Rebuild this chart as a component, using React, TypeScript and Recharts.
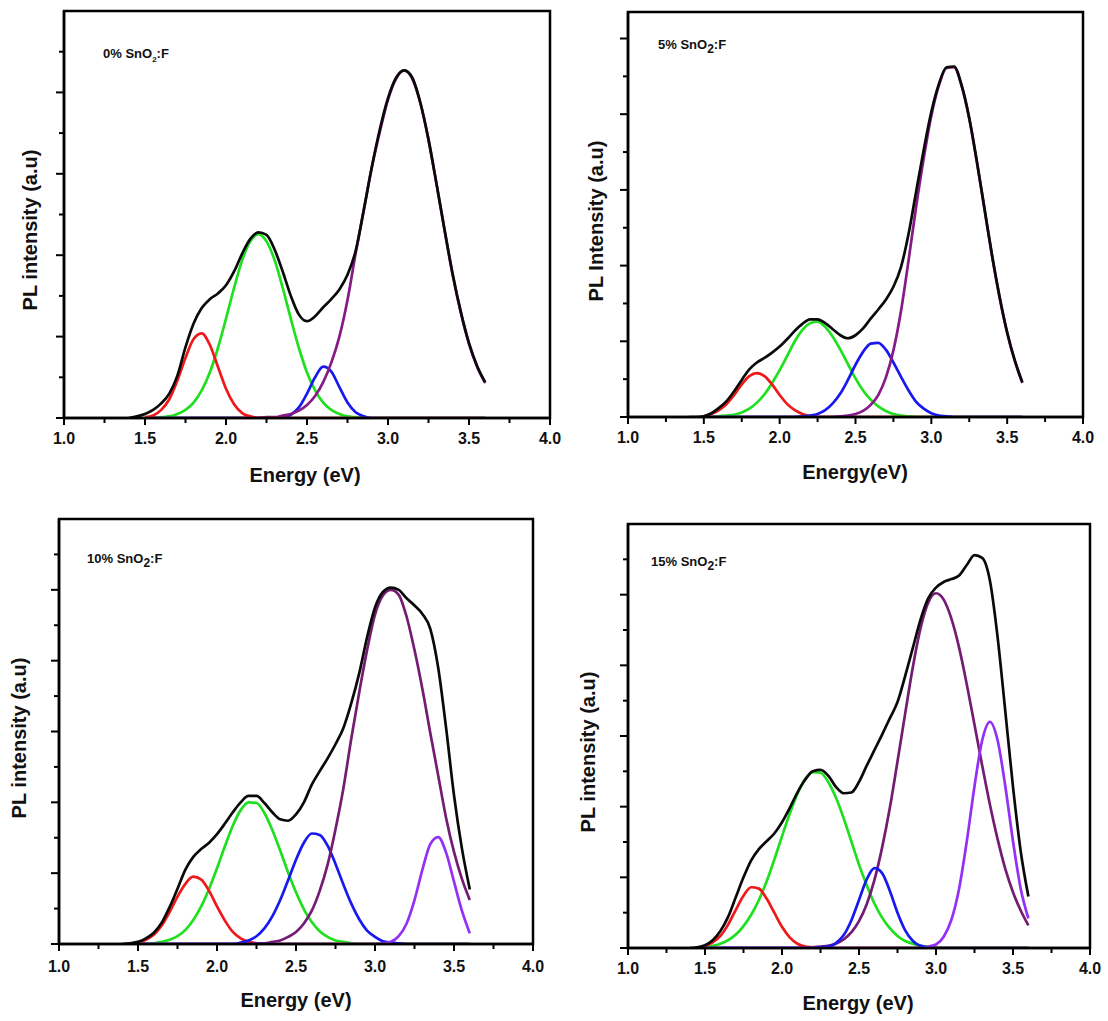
import React from 'react';
import { LineChart, Line, XAxis, YAxis, ReferenceArea } from 'recharts';

const FONT = '"Liberation Sans", Arial, Helvetica, sans-serif';

// photon energy grid (eV)
const ENERGY = [1.40, 1.45, 1.50, 1.55, 1.60, 1.65, 1.70, 1.75, 1.80, 1.85, 1.90, 1.95, 2.00, 2.05, 2.10, 2.15, 2.20, 2.25, 2.30, 2.35, 2.40, 2.45, 2.50, 2.55, 2.60, 2.65, 2.70, 2.75, 2.80, 2.85, 2.90, 2.95, 3.00, 3.05, 3.10, 3.15, 3.20, 3.25, 3.30, 3.35, 3.40, 3.45, 3.50, 3.55, 3.60];

const X_TICKS = [1.0, 1.25, 1.5, 1.75, 2.0, 2.25, 2.5, 2.75, 3.0, 3.25, 3.5, 3.75, 4.0];
const Y_TICKS_5 = [0, 0.5, 1, 1.5, 2, 2.5, 3, 3.5, 4, 4.5];
const Y_TICKS_53 = [0, 0.5, 1, 1.5, 2, 2.5, 3, 3.5, 4, 4.5, 5];
const Y_TICKS_6 = [0, 0.5, 1, 1.5, 2, 2.5, 3, 3.5, 4, 4.5, 5, 5.5];

const _ = null;

// ---------- 0% SnO2:F ----------
const P0_TOTAL = [0.00, 0.02, 0.05, 0.10, 0.18, 0.30, 0.52, 0.87, 1.16, 1.35, 1.46, 1.53, 1.63, 1.80, 2.02, 2.20, 2.28, 2.25, 2.07, 1.80, 1.50, 1.27, 1.19, 1.25, 1.36, 1.46, 1.58, 1.76, 2.05, 2.55, 3.08, 3.55, 3.93, 4.18, 4.27, 4.18, 3.87, 3.42, 2.87, 2.30, 1.76, 1.30, 0.92, 0.64, 0.44];
const P0_RED = [_, _, 0.01, 0.03, 0.10, 0.23, 0.46, 0.74, 0.97, 1.04, 0.90, 0.63, 0.36, 0.17, 0.06, 0.02, 0.00, 0, 0, 0, 0, 0, 0, 0, 0, 0, 0, 0, 0, 0, 0, 0, 0, 0, 0, 0, 0, 0, 0, 0, 0, 0, 0, 0, 0];
const P0_GREEN = [_, _, 0.00, 0.00, 0.01, 0.02, 0.05, 0.10, 0.19, 0.34, 0.56, 0.86, 1.22, 1.60, 1.94, 2.17, 2.26, 2.17, 1.94, 1.60, 1.22, 0.86, 0.56, 0.34, 0.19, 0.10, 0.05, 0.02, 0.01, 0, 0, 0, 0, 0, 0, 0, 0, 0, 0, 0, 0, 0, 0, 0, 0];
const P0_BLUE = [_, _, 0, 0, 0, 0, 0, 0, 0, 0, 0, 0, 0, 0, 0, 0, 0, 0, 0.00, 0.01, 0.04, 0.13, 0.30, 0.50, 0.63, 0.57, 0.38, 0.19, 0.07, 0.02, 0.00, 0, 0, 0, 0, 0, 0, 0, 0, 0, 0, 0, 0, 0, 0];
const P0_PURPLE = [_, _, 0, 0, 0, 0, 0, 0, 0, 0, 0, 0, 0, 0, 0, 0, 0.00, 0.01, 0.01, 0.03, 0.05, 0.09, 0.16, 0.27, 0.44, 0.68, 1.00, 1.45, 2.02, 2.55, 3.08, 3.52, 3.91, 4.17, 4.27, 4.17, 3.87, 3.42, 2.87, 2.30, 1.75, 1.29, 0.91, 0.63, 0.43];

// ---------- 5% SnO2:F ----------
const P5_TOTAL = [0.00, 0.00, 0.01, 0.05, 0.12, 0.21, 0.34, 0.49, 0.63, 0.72, 0.78, 0.85, 0.93, 1.03, 1.14, 1.23, 1.29, 1.29, 1.24, 1.16, 1.08, 1.04, 1.08, 1.17, 1.30, 1.42, 1.55, 1.72, 1.98, 2.42, 2.98, 3.53, 4.03, 4.40, 4.62, 4.63, 4.38, 3.95, 3.38, 2.76, 2.14, 1.59, 1.12, 0.75, 0.46];
const P5_RED = [_, _, 0.01, 0.04, 0.09, 0.17, 0.29, 0.43, 0.54, 0.58, 0.54, 0.43, 0.29, 0.17, 0.09, 0.04, 0.01, 0.00, 0, 0, 0, 0, 0, 0, 0, 0, 0, 0, 0, 0, 0, 0, 0, 0, 0, 0, 0, 0, 0, 0, 0, 0, 0, 0, 0];
const P5_GREEN = [_, _, 0.00, 0.00, 0.01, 0.02, 0.03, 0.06, 0.11, 0.19, 0.30, 0.45, 0.62, 0.81, 1.00, 1.15, 1.24, 1.26, 1.19, 1.06, 0.89, 0.70, 0.51, 0.35, 0.23, 0.14, 0.08, 0.04, 0.02, 0.01, 0.00, 0, 0, 0, 0, 0, 0, 0, 0, 0, 0, 0, 0, 0, 0];
const P5_BLUE = [_, _, 0, 0, 0, 0, 0, 0, 0, 0, 0, 0, 0, 0, 0.00, 0.01, 0.02, 0.04, 0.09, 0.18, 0.31, 0.49, 0.69, 0.86, 0.97, 0.98, 0.89, 0.72, 0.53, 0.35, 0.20, 0.11, 0.05, 0.02, 0.01, 0.00, 0, 0, 0, 0, 0, 0, 0, 0, 0];
const P5_PURPLE = [_, _, 0, 0, 0, 0, 0, 0, 0, 0, 0, 0, 0, 0, 0, 0, 0, 0, 0, 0.00, 0.01, 0.02, 0.04, 0.08, 0.16, 0.29, 0.52, 0.88, 1.40, 2.07, 2.78, 3.42, 3.98, 4.38, 4.61, 4.62, 4.37, 3.94, 3.37, 2.75, 2.13, 1.58, 1.11, 0.74, 0.45];

// ---------- 10% SnO2:F ----------
const P10_TOTAL = [0.00, 0.01, 0.03, 0.08, 0.16, 0.30, 0.52, 0.78, 1.05, 1.23, 1.34, 1.43, 1.55, 1.70, 1.86, 2.00, 2.09, 2.09, 1.99, 1.86, 1.76, 1.74, 1.83, 2.00, 2.25, 2.44, 2.62, 2.82, 3.05, 3.40, 3.82, 4.33, 4.75, 4.97, 5.03, 5.00, 4.88, 4.78, 4.66, 4.45, 3.90, 3.05, 2.10, 1.35, 0.77];
const P10_RED = [_, _, 0.02, 0.06, 0.13, 0.26, 0.45, 0.67, 0.85, 0.95, 0.91, 0.75, 0.53, 0.33, 0.17, 0.08, 0.03, 0.01, 0, 0, 0, 0, 0, 0, 0, 0, 0, 0, 0, 0, 0, 0, 0, 0, 0, 0, 0, 0, 0, 0, 0, 0, 0, 0, 0];
const P10_GREEN = [_, _, 0.00, 0.00, 0.01, 0.03, 0.06, 0.11, 0.20, 0.34, 0.53, 0.78, 1.07, 1.38, 1.67, 1.89, 2.00, 1.99, 1.85, 1.61, 1.32, 1.01, 0.73, 0.49, 0.31, 0.18, 0.10, 0.05, 0.03, 0.01, 0.00, 0, 0, 0, 0, 0, 0, 0, 0, 0, 0, 0, 0, 0, 0];
const P10_BLUE = [_, _, 0, 0, 0, 0, 0, 0, 0, 0, 0, 0, 0, 0, 0, 0.02, 0.05, 0.11, 0.22, 0.39, 0.62, 0.90, 1.19, 1.43, 1.56, 1.54, 1.39, 1.13, 0.84, 0.57, 0.35, 0.19, 0.10, 0.04, 0.02, 0.01, 0.00, 0, 0, 0, 0, 0, 0, 0, 0];
const P10_PURPLE = [_, _, 0, 0, 0, 0, 0, 0, 0, 0, 0, 0, 0, 0, 0, 0, 0.00, 0.01, 0.01, 0.03, 0.05, 0.10, 0.17, 0.29, 0.47, 0.75, 1.12, 1.62, 2.20, 2.90, 3.55, 4.15, 4.65, 4.92, 5.00, 4.93, 4.62, 4.15, 3.60, 2.98, 2.38, 1.78, 1.30, 0.92, 0.62];
const P10_VIOLET = [_, _, 0, 0, 0, 0, 0, 0, 0, 0, 0, 0, 0, 0, 0, 0, 0, 0, 0, 0, 0, 0, 0, 0, 0, 0, 0, 0, 0, 0, 0, 0, 0, 0.01, 0.03, 0.11, 0.29, 0.62, 1.05, 1.41, 1.51, 1.29, 0.88, 0.47, 0.15];

// ---------- 15% SnO2:F ----------
const P15_TOTAL = [0.00, 0.01, 0.04, 0.11, 0.24, 0.44, 0.72, 1.00, 1.24, 1.40, 1.51, 1.62, 1.78, 1.98, 2.20, 2.38, 2.50, 2.52, 2.44, 2.28, 2.19, 2.20, 2.35, 2.58, 2.80, 3.02, 3.25, 3.48, 3.85, 4.25, 4.65, 4.95, 5.10, 5.18, 5.22, 5.27, 5.42, 5.56, 5.52, 5.20, 4.40, 3.35, 2.28, 1.37, 0.73];
const P15_RED = [_, _, 0.03, 0.08, 0.17, 0.33, 0.54, 0.74, 0.86, 0.84, 0.70, 0.50, 0.30, 0.15, 0.06, 0.02, 0.01, 0.00, 0, 0, 0, 0, 0, 0, 0, 0, 0, 0, 0, 0, 0, 0, 0, 0, 0, 0, 0, 0, 0, 0, 0, 0, 0, 0, 0];
const P15_GREEN = [_, _, 0.02, 0.03, 0.06, 0.11, 0.19, 0.31, 0.47, 0.68, 0.94, 1.25, 1.58, 1.90, 2.18, 2.39, 2.49, 2.48, 2.35, 2.13, 1.84, 1.51, 1.18, 0.89, 0.63, 0.43, 0.28, 0.17, 0.10, 0.06, 0.03, 0.02, 0.01, 0.00, 0, 0, 0, 0, 0, 0, 0, 0, 0, 0, 0];
const P15_BLUE = [_, _, 0, 0, 0, 0, 0, 0, 0, 0, 0, 0, 0, 0, 0, 0, 0, 0.01, 0.02, 0.07, 0.18, 0.39, 0.68, 0.97, 1.13, 1.06, 0.81, 0.50, 0.25, 0.10, 0.03, 0.01, 0.00, 0, 0, 0, 0, 0, 0, 0, 0, 0, 0, 0, 0];
const P15_PURPLE = [_, _, 0, 0, 0, 0, 0, 0, 0, 0, 0, 0, 0, 0, 0, 0, 0.01, 0.02, 0.03, 0.06, 0.12, 0.22, 0.38, 0.62, 0.96, 1.42, 1.98, 2.64, 3.32, 3.98, 4.53, 4.89, 5.02, 4.93, 4.66, 4.25, 3.73, 3.16, 2.58, 2.03, 1.54, 1.12, 0.79, 0.53, 0.32];
const P15_VIOLET = [_, _, 0, 0, 0, 0, 0, 0, 0, 0, 0, 0, 0, 0, 0, 0, 0, 0, 0, 0, 0, 0, 0, 0, 0, 0, 0, 0, 0, 0, 0, 0.02, 0.05, 0.16, 0.40, 0.84, 1.51, 2.29, 2.94, 3.20, 2.94, 2.29, 1.51, 0.84, 0.42];

const C_BLACK = '#0a0a0a';
const C_RED = '#f01818';
const C_GREEN = '#1ee01e';
const C_BLUE = '#1818f0';
const C_PURPLE = '#861a86';
const C_PURPLE_DARK = '#741c74';
const C_VIOLET = '#9430f5';

type Series = { key: string; values: (number | null)[]; color: string };

function XTick(props: any) {
  const { x, y, payload, labelDy } = props;
  const v = Number(payload.value);
  const major = Math.abs(v * 2 - Math.round(v * 2)) < 1e-6;
  return (
    <g>
      <line x1={x} x2={x} y1={y} y2={y + (major ? 7 : 5)} stroke="#000" strokeWidth={2} />
      {major ? (
        <text x={x} y={y + labelDy} textAnchor="middle" fontFamily={FONT} fontWeight={700} fontSize={16} fill="#111">
          {v.toFixed(1)}
        </text>
      ) : null}
    </g>
  );
}

function YTick(props: any) {
  const { x, y, payload } = props;
  const v = Number(payload.value);
  const major = Math.abs(v - Math.round(v)) < 1e-6;
  return <line x1={x - (major ? 8 : 5)} x2={x} y1={y} y2={y} stroke="#000" strokeWidth={2} />;
}

type PanelProps = {
  left: number; top: number; w: number; h: number;
  yMax: number; yTicks: number[];
  series: Series[];
  labelDy: number;
};

function Panel({ left, top, w, h, yMax, yTicks, series, labelDy }: PanelProps) {
  const ML = 50, MT = 10, MR = 16, MB = 70;
  const data = ENERGY.map((e, i) => {
    const row: any = { e };
    series.forEach((s) => { row[s.key] = s.values[i]; });
    return row;
  });
  return (
    <div style={{ position: 'absolute', left: left - ML, top: top - MT }}>
      <LineChart width={w + ML + MR} height={h + MT + MB} data={data}
        margin={{ top: MT, right: MR, bottom: MB - 30, left: ML - 40 }}>
        <XAxis type="number" dataKey="e" domain={[1, 4]} ticks={X_TICKS} interval={0}
          tick={(p: any) => <XTick {...p} labelDy={labelDy} />} tickLine={false} tickSize={0} tickMargin={0}
          axisLine={{ stroke: '#000', strokeWidth: 2.5 }} height={30} allowDataOverflow />
        <YAxis type="number" domain={[0, yMax]} ticks={yTicks} interval={0}
          tick={(p: any) => <YTick {...p} />} tickLine={false} tickSize={0} tickMargin={0}
          axisLine={{ stroke: '#000', strokeWidth: 2.5 }} width={40} allowDataOverflow />
        <ReferenceArea x1={1} x2={4} y1={0} y2={yMax} fill="none" fillOpacity={0} stroke="#000" strokeWidth={2.5} ifOverflow="visible" />
        {series.map((s) => (
          <Line key={s.key} dataKey={s.key} type="monotone" stroke={s.color} strokeWidth={2.7}
            dot={false} activeDot={false} isAnimationActive={false} connectNulls={false} />
        ))}
      </LineChart>
    </div>
  );
}

const titleStyle: React.CSSProperties = {
  position: 'absolute', fontFamily: FONT, fontWeight: 700, fontSize: 20, color: '#111',
  lineHeight: '20px', whiteSpace: 'nowrap', textAlign: 'center', width: 300,
};

function XTitle({ cx, cy, text }: { cx: number; cy: number; text: string }) {
  return <div style={{ ...titleStyle, left: cx - 150, top: cy - 10 }}>{text}</div>;
}

function YTitle({ cx, cy, text }: { cx: number; cy: number; text: string }) {
  return (
    <div style={{ ...titleStyle, left: cx - 150, top: cy - 10, transform: 'rotate(-90deg)' }}>{text}</div>
  );
}

function Note({ x, cy, pct, subSize }: { x: number; cy: number; pct: string; subSize: number }) {
  return (
    <div style={{ position: 'absolute', left: x, top: cy - 8, fontFamily: FONT, fontWeight: 700, fontSize: 13, lineHeight: '16px', color: '#111', whiteSpace: 'nowrap' }}>
      {pct} SnO<sub style={{ fontSize: subSize, lineHeight: 0 }}>2</sub>:F
    </div>
  );
}

export default function App() {
  return (
    <div style={{ position: 'absolute', left: 0, top: 0, width: 1108, height: 1021, background: '#fff', overflow: 'hidden' }}>
      <Panel left={64} top={11} w={486} h={407} yMax={5} yTicks={Y_TICKS_5} labelDy={26}
        series={[
          { key: 'green', values: P0_GREEN, color: C_GREEN },
          { key: 'blue', values: P0_BLUE, color: C_BLUE },
          { key: 'purple', values: P0_PURPLE, color: C_PURPLE },
          { key: 'red', values: P0_RED, color: C_RED },
          { key: 'total', values: P0_TOTAL, color: C_BLACK },
        ]} />
      <Panel left={628} top={12} w={455} h={405} yMax={5.35} yTicks={Y_TICKS_53} labelDy={26}
        series={[
          { key: 'green', values: P5_GREEN, color: C_GREEN },
          { key: 'red', values: P5_RED, color: C_RED },
          { key: 'blue', values: P5_BLUE, color: C_BLUE },
          { key: 'purple', values: P5_PURPLE, color: C_PURPLE },
          { key: 'total', values: P5_TOTAL, color: C_BLACK },
        ]} />
      <Panel left={59} top={519} w={474} h={425} yMax={6} yTicks={Y_TICKS_6} labelDy={28}
        series={[
          { key: 'green', values: P10_GREEN, color: C_GREEN },
          { key: 'red', values: P10_RED, color: C_RED },
          { key: 'blue', values: P10_BLUE, color: C_BLUE },
          { key: 'purple', values: P10_PURPLE, color: C_PURPLE_DARK },
          { key: 'violet', values: P10_VIOLET, color: C_VIOLET },
          { key: 'total', values: P10_TOTAL, color: C_BLACK },
        ]} />
      <Panel left={628} top={524} w={462} h={424} yMax={6} yTicks={Y_TICKS_6} labelDy={26}
        series={[
          { key: 'green', values: P15_GREEN, color: C_GREEN },
          { key: 'red', values: P15_RED, color: C_RED },
          { key: 'purple', values: P15_PURPLE, color: C_PURPLE_DARK },
          { key: 'blue', values: P15_BLUE, color: C_BLUE },
          { key: 'violet', values: P15_VIOLET, color: C_VIOLET },
          { key: 'total', values: P15_TOTAL, color: C_BLACK },
        ]} />

      <XTitle cx={305} cy={475} text="Energy (eV)" />
      <XTitle cx={855} cy={472} text="Energy(eV)" />
      <XTitle cx={296} cy={1000} text="Energy (eV)" />
      <XTitle cx={858} cy={1003} text="Energy (eV)" />

      <YTitle cx={30} cy={230} text="PL intensity (a.u)" />
      <YTitle cx={596} cy={221} text="PL Intensity (a.u)" />
      <YTitle cx={19} cy={738} text="PL intensity (a.u)" />
      <YTitle cx={588} cy={752} text="PL intensity (a.u)" />

      <Note x={103} cy={54} pct="0%" subSize={8} />
      <Note x={658} cy={45} pct="5%" subSize={12} />
      <Note x={87} cy={559} pct="10%" subSize={12} />
      <Note x={651} cy={562} pct="15%" subSize={12} />
    </div>
  );
}
